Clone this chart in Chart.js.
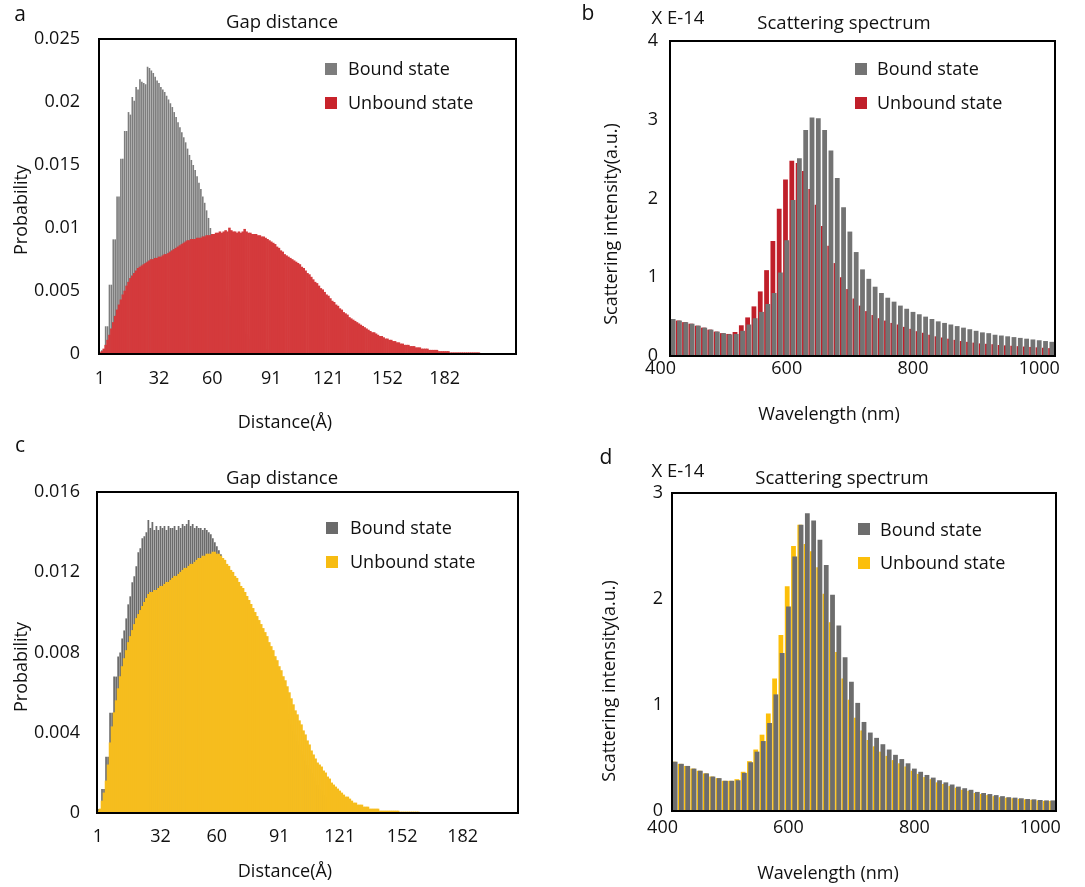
<!DOCTYPE html>
<html>
<head>
<meta charset="utf-8">
<script src="https://cdn.jsdelivr.net/npm/chart.js@4.4.1/dist/chart.umd.min.js"></script>
<style>
  body { margin: 0; background: #fff; width: 1085px; height: 887px; position: relative; overflow: hidden;
         font-family: "Open Sans", sans-serif; color: #111; }
  canvas { position: absolute; }
  .t { position: absolute; white-space: nowrap; font-size: 18px; line-height: 1; transform: translate(-50%, -50%); }
  .l { position: absolute; white-space: nowrap; font-size: 18px; line-height: 1; transform: translateY(-50%); }
  .v { position: absolute; white-space: nowrap; font-size: 18px; line-height: 1; transform: translate(-50%, -50%) rotate(-90deg); }
  .p { font-size: 21px; }
  .h { font-size: 18.5px; }
  .key { position: absolute; width: 12px; height: 12px; }
</style>
</head>
<body>
<canvas id="gapA" width="545" height="440" style="left:0;top:0"></canvas>
<canvas id="specB" width="540" height="440" style="left:545px;top:0"></canvas>
<canvas id="gapC" width="545" height="447" style="left:0;top:440px"></canvas>
<canvas id="specD" width="540" height="447" style="left:545px;top:440px"></canvas>

<!-- panel a -->
<div class="t p" style="left:20px;top:13px">a</div>
<div class="t h" style="left:282px;top:21px">Gap distance</div>
<div class="v" style="left:20px;top:210px">Probability</div>
<div class="t" style="left:285px;top:421px">Distance(Å)</div>
<div class="key" style="left:325px;top:63px;background:#7d7d7d"></div>
<div class="l" style="left:348px;top:68px">Bound state</div>
<div class="key" style="left:325px;top:97px;background:#c8232b"></div>
<div class="l" style="left:348px;top:102px">Unbound state</div>

<!-- panel b -->
<div class="t p" style="left:588px;top:12px">b</div>
<div class="t h" style="left:678px;top:17px">X E-14</div>
<div class="t h" style="left:844px;top:22px">Scattering spectrum</div>
<div class="v" style="left:610px;top:224px">Scattering intensity(a.u.)</div>
<div class="t" style="left:829px;top:413px">Wavelength (nm)</div>
<div class="key" style="left:855px;top:63px;background:#737373"></div>
<div class="l" style="left:877px;top:68px">Bound state</div>
<div class="key" style="left:855px;top:97px;background:#c01f2a"></div>
<div class="l" style="left:877px;top:102px">Unbound state</div>

<!-- panel c -->
<div class="t p" style="left:20px;top:444px">c</div>
<div class="t h" style="left:282px;top:477px">Gap distance</div>
<div class="v" style="left:20px;top:667px">Probability</div>
<div class="t" style="left:285px;top:870px">Distance(Å)</div>
<div class="key" style="left:326px;top:522px;background:#6b6b6b"></div>
<div class="l" style="left:350px;top:527px">Bound state</div>
<div class="key" style="left:326px;top:556px;background:#f7bc12"></div>
<div class="l" style="left:350px;top:561px">Unbound state</div>

<!-- panel d -->
<div class="t p" style="left:606px;top:456px">d</div>
<div class="t h" style="left:678px;top:470px">X E-14</div>
<div class="t h" style="left:842px;top:477px">Scattering spectrum</div>
<div class="v" style="left:608px;top:681px">Scattering intensity(a.u.)</div>
<div class="t" style="left:828px;top:872px">Wavelength (nm)</div>
<div class="key" style="left:858px;top:523px;background:#6d6d6d"></div>
<div class="l" style="left:880px;top:529px">Bound state</div>
<div class="key" style="left:858px;top:557px;background:#fcbf0a"></div>
<div class="l" style="left:880px;top:562px">Unbound state</div>

<script>
// gap distance histograms: one bin per Å, first bin at 1 Å
const firstBin = 1;
const distanceTicks = [1, 32, 60, 91, 121, 152, 182];
const probTicksA = [0, 0.005, 0.01, 0.015, 0.02, 0.025];
const probTicksC = [0, 0.004, 0.008, 0.012, 0.016];

const gapBoundA = [
  0.0001,0.0003,0.0003,0.0022,0.0022,0.0055,0.0055,0.0091,0.0091,0.0125,
  0.0125,0.0155,0.0155,0.0177,0.0177,0.0192,0.0190,0.0204,0.0201,0.0212,
  0.0210,0.0218,0.0216,0.0215,0.0214,0.0228,0.0227,0.0225,0.0223,0.0220,
  0.0217,0.0215,0.0212,0.0210,0.0208,0.0205,0.0202,0.0199,0.0196,0.0192,
  0.0188,0.0184,0.0180,0.0176,0.0172,0.0168,0.0163,0.0158,0.0154,0.0150,
  0.0146,0.0141,0.0136,0.0131,0.0125,0.0120,0.0114,0.0108,0.0100,0.0093,
  0.0086,0.0079,0.0073,0.0067,0.0061,0.0056,0.0051,0.0046,0.0042,0.0038,
  0.0034,0.0031,0.0028,0.0025,0.0022,0.0020,0.0018,0.0016,0.0014,0.0012,
  0.0011,0.0010,0.0009,0.0008,0.0007,0.0006,0.0005,0.0004,0.0004,0.0003,
  0.0003,0.0002,0.0002,0.0001,0.0001
];
const gapUnboundA = [
  0.0001,0.0002,0.0004,0.0007,0.0011,0.0015,0.0020,0.0025,0.0030,0.0035,
  0.0039,0.0043,0.0047,0.0050,0.0054,0.0057,0.0060,0.0062,0.0064,0.0066,
  0.0068,0.0069,0.0070,0.0071,0.0072,0.0073,0.0074,0.0075,0.0075,0.0076,
  0.0076,0.0077,0.0077,0.0078,0.0079,0.0079,0.0080,0.0081,0.0082,0.0083,
  0.0084,0.0085,0.0086,0.0087,0.0088,0.0089,0.0090,0.0090,0.0091,0.0091,
  0.0091,0.0092,0.0092,0.0092,0.0093,0.0093,0.0094,0.0094,0.0094,0.0095,
  0.0095,0.0096,0.0096,0.0097,0.0096,0.0097,0.0098,0.0097,0.0100,0.0098,
  0.0097,0.0097,0.0096,0.0097,0.0096,0.0097,0.0099,0.0097,0.0096,0.0096,
  0.0095,0.0095,0.0095,0.0094,0.0094,0.0093,0.0093,0.0092,0.0091,0.0090,
  0.0089,0.0088,0.0087,0.0085,0.0084,0.0082,0.0081,0.0079,0.0078,0.0077,
  0.0076,0.0075,0.0074,0.0073,0.0072,0.0071,0.0069,0.0068,0.0066,0.0064,
  0.0063,0.0061,0.0059,0.0057,0.0056,0.0054,0.0052,0.0051,0.0049,0.0047,
  0.0046,0.0044,0.0042,0.0041,0.0039,0.0038,0.0036,0.0035,0.0033,0.0032,
  0.0031,0.0029,0.0028,0.0027,0.0026,0.0025,0.0024,0.0023,0.0022,0.0021,
  0.0020,0.0019,0.0018,0.0017,0.0017,0.0016,0.0015,0.0014,0.0014,0.0013,
  0.0012,0.0012,0.0011,0.0011,0.0010,0.0010,0.0009,0.0009,0.0008,0.0008,
  0.0007,0.0007,0.0007,0.0006,0.0006,0.0006,0.0005,0.0005,0.0005,0.0004,
  0.0004,0.0004,0.0004,0.0003,0.0003,0.0003,0.0003,0.0003,0.0002,0.0002,
  0.0002,0.0002,0.0002,0.0002,0.0001,0.0001,0.0001,0.0001,0.0001,0.0001,
  0.0001,0.0001,0.0001,0.0001,0.0001,0.0001,0.0001,0.0001,0.0001,0.0001,
  0.00005,0.00005,0.00005,0.00005,0.00005,0.00005,0.00005,0.00005,0.00005,0.00005
];
const gapBoundC = [
  0.0002,0.0002,0.0012,0.0012,0.0028,0.0028,0.0050,0.0050,0.0068,0.0068,
  0.0078,0.0080,0.0087,0.0091,0.0097,0.0104,0.0108,0.0115,0.0118,0.0123,
  0.0130,0.0132,0.0137,0.0138,0.0140,0.0146,0.0142,0.0145,0.0141,0.0143,
  0.0141,0.0143,0.0142,0.0143,0.0141,0.0143,0.0142,0.0142,0.0143,0.0141,
  0.0143,0.0142,0.0144,0.0143,0.0144,0.0146,0.0143,0.0144,0.0142,0.0143,
  0.0142,0.0142,0.0141,0.0142,0.0141,0.0140,0.0139,0.0137,0.0135,0.0133,
  0.0131,0.0129,0.0127,0.0125,0.0123,0.0121,0.0119,0.0117,0.0115,0.0113,
  0.0111,0.0109,0.0106,0.0104,0.0101,0.0099,0.0096,0.0094,0.0091,0.0089,
  0.0086,0.0084,0.0081,0.0079,0.0076,0.0073,0.0071,0.0068,0.0065,0.0063,
  0.0060,0.0057,0.0055,0.0052,0.0049,0.0047,0.0044,0.0041,0.0039,0.0036,
  0.0034,0.0031,0.0029,0.0026,0.0024,0.0022,0.0020,0.0018,0.0016,0.0014,
  0.0012,0.0011,0.0009,0.0008,0.0007,0.0006,0.0005,0.0004,0.0003,0.0003,
  0.0002,0.0002,0.0001,0.0001,0.0001
];
const gapUnboundC = [
  0.0001,0.0002,0.0006,0.0010,0.0016,0.0024,0.0035,0.0043,0.0050,0.0056,
  0.0062,0.0068,0.0073,0.0077,0.0081,0.0085,0.0088,0.0091,0.0094,0.0097,
  0.0099,0.0101,0.0103,0.0105,0.0107,0.0109,0.0110,0.0110,0.0111,0.0111,
  0.0112,0.0113,0.0113,0.0114,0.0115,0.0115,0.0116,0.0117,0.0118,0.0118,
  0.0119,0.0120,0.0121,0.0122,0.0122,0.0123,0.0124,0.0124,0.0125,0.0126,
  0.0127,0.0127,0.0128,0.0128,0.0129,0.0129,0.0129,0.0130,0.0130,0.0129,
  0.0129,0.0128,0.0127,0.0126,0.0124,0.0123,0.0121,0.0120,0.0118,0.0117,
  0.0115,0.0113,0.0112,0.0110,0.0108,0.0106,0.0104,0.0102,0.0100,0.0098,
  0.0096,0.0094,0.0092,0.0090,0.0088,0.0085,0.0083,0.0081,0.0078,0.0076,
  0.0073,0.0071,0.0068,0.0066,0.0063,0.0060,0.0057,0.0054,0.0051,0.0049,
  0.0046,0.0044,0.0041,0.0039,0.0036,0.0034,0.0031,0.0029,0.0027,0.0025,
  0.0024,0.0023,0.0021,0.0020,0.0018,0.0017,0.0015,0.0014,0.0013,0.0012,
  0.0011,0.0010,0.0009,0.0008,0.0008,0.0007,0.0006,0.0005,0.0005,0.0004,
  0.0004,0.0004,0.0003,0.0003,0.0003,0.0002,0.0002,0.0002,0.0002,0.0002,
  0.0001,0.0001,0.0001,0.0001,0.0001,0.0001,0.0001,0.0001,0.0001,0.0001,
  0.00005,0.00005,0.00005,0.00005,0.00005,0.00005,0.00005,0.00005,0.00005,0.00005
];

// scattering spectra, intensity in units of 1E-14
const wavelengths = [
  420,430,440,450,460,470,480,490,500,510,
  520,530,540,550,560,570,580,590,600,610,
  620,630,640,650,660,670,680,690,700,710,
  720,730,740,750,760,770,780,790,800,810,
  820,830,840,850,860,870,880,890,900,910,
  920,930,940,950,960,970,980,990,1000,1010,
  1020
];
const wavelengthTicks = [400, 600, 800, 1000];
const intensityTicksB = [0, 1, 2, 3, 4];
const intensityTicksD = [0, 1, 2, 3];

const specBoundB = [
  0.47,0.45,0.43,0.41,0.385,0.36,0.335,0.31,0.29,0.275,
  0.28,0.32,0.40,0.48,0.56,0.66,0.80,1.06,1.47,1.98,
  2.51,2.87,3.03,3.02,2.87,2.61,2.26,1.89,1.58,1.32,
  1.10,0.98,0.88,0.80,0.74,0.69,0.64,0.60,0.56,0.53,
  0.50,0.47,0.44,0.42,0.40,0.38,0.36,0.34,0.32,0.30,
  0.29,0.27,0.26,0.25,0.24,0.23,0.22,0.21,0.20,0.19,
  0.18
];
const specUnboundB = [
  0.47,0.45,0.43,0.41,0.385,0.36,0.335,0.31,0.29,0.28,
  0.305,0.39,0.49,0.63,0.82,1.09,1.46,1.87,2.24,2.48,
  2.45,2.35,2.12,1.92,1.65,1.40,1.18,1.00,0.85,0.73,
  0.64,0.57,0.52,0.48,0.45,0.42,0.40,0.37,0.345,0.315,
  0.295,0.27,0.25,0.235,0.22,0.205,0.19,0.18,0.17,0.16,
  0.155,0.15,0.14,0.135,0.13,0.125,0.12,0.115,0.11,0.105,
  0.10
];
const specBoundD = [
  0.465,0.445,0.425,0.40,0.38,0.355,0.325,0.31,0.285,0.285,
  0.29,0.36,0.46,0.56,0.66,0.83,1.10,1.49,1.93,2.40,
  2.70,2.81,2.74,2.56,2.32,2.04,1.75,1.45,1.22,1.02,
  0.84,0.74,0.69,0.63,0.58,0.53,0.49,0.45,0.40,0.37,
  0.34,0.315,0.29,0.27,0.25,0.23,0.215,0.20,0.18,0.17,
  0.16,0.15,0.14,0.13,0.126,0.12,0.113,0.11,0.104,0.10,
  0.10
];
const specUnboundD = [
  0.465,0.445,0.425,0.40,0.38,0.355,0.325,0.31,0.285,0.285,
  0.30,0.37,0.47,0.58,0.72,0.92,1.25,1.66,2.12,2.50,
  2.70,2.52,2.45,2.30,2.05,1.78,1.50,1.25,1.05,0.88,
  0.76,0.67,0.61,0.56,0.52,0.48,0.45,0.42,0.38,0.35,
  0.32,0.30,0.27,0.255,0.235,0.22,0.20,0.19,0.17,0.16,
  0.15,0.14,0.13,0.125,0.12,0.115,0.11,0.105,0.10,0.095,
  0.095
];

const tickFont = { family: 'Open Sans', size: 18 };
const tickColor = '#111';

// black box round the plot area
const frame = {
  id: 'frame',
  afterDatasetsDraw(chart) {
    const { ctx, chartArea: a } = chart;
    ctx.save();
    ctx.strokeStyle = '#000';
    ctx.lineWidth = 2;
    ctx.strokeRect(a.left, a.top, a.right - a.left, a.bottom - a.top);
    ctx.restore();
  }
};

function valueAxis(ticks, box) {
  return {
    min: ticks[0], max: ticks[ticks.length - 1],
    grid: { display: false, drawTicks: false }, border: { display: false },
    ticks: { font: tickFont, color: tickColor, padding: box.yPad, callback: v => String(v) },
    afterBuildTicks: s => { s.ticks = ticks.map(v => ({ value: v })); },
    afterFit: s => { s.width = box.yWidth; }
  };
}

function baseOptions(box) {
  return {
    responsive: false,
    animation: false,
    layout: { padding: { top: box.top, right: box.right, left: 0, bottom: 0 } },
    plugins: { legend: { display: false }, tooltip: { enabled: false } }
  };
}

function gapChart(id, bound, unbound, colors, yTicks, box) {
  const points = arr => arr.map((y, i) => ({ x: firstBin + i, y }));
  // front series fills its bins edge to edge so the back one stays hidden under it
  const back = { grouped: false, barPercentage: 0.86, categoryPercentage: 1, borderWidth: 0 };
  const front = { grouped: false, barPercentage: 1, categoryPercentage: 1, borderWidth: 0 };
  const opts = baseOptions(box);
  opts.scales = {
    x: {
      type: 'linear', min: 0.5, max: box.xMax, offset: false, bounds: 'data',
      grid: { display: false, drawTicks: false }, border: { display: false },
      ticks: { font: tickFont, color: tickColor, padding: box.xPad, autoSkip: false, maxRotation: 0,
               callback: v => String(v) },
      afterBuildTicks: s => { s.ticks = distanceTicks.map(v => ({ value: v })); },
      afterFit: s => { s.height = box.xHeight; }
    },
    y: valueAxis(yTicks, box)
  };
  new Chart(document.getElementById(id), {
    type: 'bar',
    data: {
      datasets: [
        Object.assign({ label: 'Bound state', data: points(bound), backgroundColor: colors[0], order: 2 }, back),
        Object.assign({ label: 'Unbound state', data: points(unbound), backgroundColor: colors[1], order: 1 }, front)
      ]
    },
    options: opts,
    plugins: [frame]
  });
}

function spectrumChart(id, bound, unbound, colors, yTicks, box) {
  const points = arr => arr.map((y, i) => ({ x: wavelengths[i], y }));
  const bar = { grouped: false, barPercentage: 0.76, categoryPercentage: 1, borderWidth: 0 };
  const xMin = 415, xMax = 1025, shift = 2;
  const opts = baseOptions(box);
  opts.scales = {
    x: {
      type: 'linear', min: xMin, max: xMax, offset: false, bounds: 'data',
      grid: { display: false, drawTicks: false }, border: { display: false },
      ticks: { font: tickFont, color: tickColor, padding: box.xPad, autoSkip: false, maxRotation: 0,
               callback: v => String(v) },
      afterBuildTicks: s => { s.ticks = wavelengthTicks.map(v => ({ value: v })); },
      afterFit: s => { s.height = box.xHeight; }
    },
    // unbound bars sit a little to the left of the bound ones
    xs: { type: 'linear', display: false, min: xMin + shift, max: xMax + shift, offset: false, bounds: 'data' },
    y: valueAxis(yTicks, box)
  };
  new Chart(document.getElementById(id), {
    type: 'bar',
    data: {
      datasets: [
        Object.assign({ label: 'Bound state', data: points(bound), backgroundColor: colors[0], order: 1 }, bar),
        Object.assign({ label: 'Unbound state', data: points(unbound), backgroundColor: colors[1], order: 2,
                        xAxisID: 'xs' }, bar)
      ]
    },
    options: opts,
    plugins: [frame]
  });
}

gapChart('gapA', gapBoundA, gapUnboundA, ['#7d7d7d', '#d43a3c'], probTicksA,
  { top: 39, right: 29, yWidth: 99, xHeight: 86, yPad: 19, xPad: 14, xMax: 219.5 });
spectrumChart('specB', specBoundB, specUnboundB, ['#737373', '#c01f2a'], intensityTicksB,
  { top: 41, right: 30, yWidth: 125, xHeight: 84, yPad: 12, xPad: 2 });
gapChart('gapC', gapBoundC, gapUnboundC, ['#6b6b6b', '#f6bd1e'], probTicksC,
  { top: 52, right: 27, yWidth: 97, xHeight: 74, yPad: 17, xPad: 13, xMax: 209.5 });
spectrumChart('specD', specBoundD, specUnboundD, ['#6d6d6d', '#fcbf0a'], intensityTicksD,
  { top: 53, right: 29, yWidth: 127, xHeight: 76, yPad: 9, xPad: 6 });
</script>
</body>
</html>
